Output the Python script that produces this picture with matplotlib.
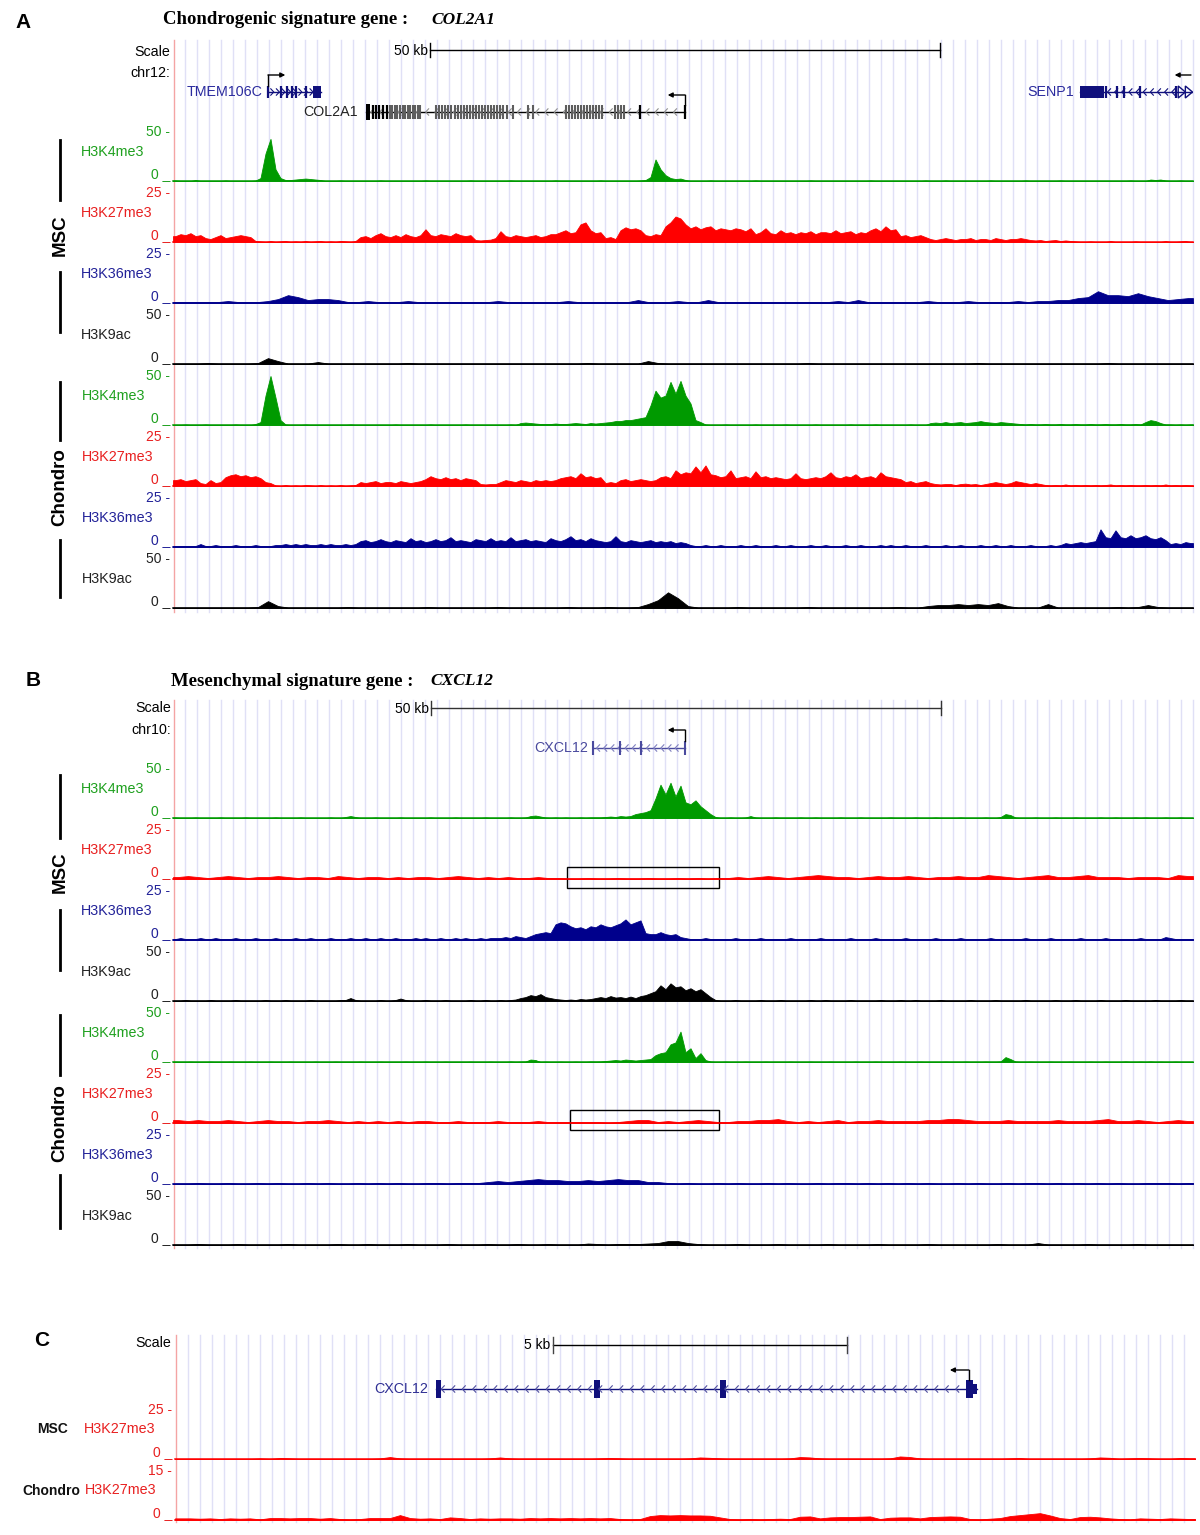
import matplotlib
matplotlib.use("Agg")
import matplotlib.pyplot as plt
import numpy as np
from matplotlib.patches import Rectangle, Polygon

SANS = ['Liberation Sans', 'DejaVu Sans']
SERIF = ['Liberation Serif', 'DejaVu Serif']

# ---------------- data ----------------
marks = ['H3K4me3', 'H3K27me3', 'H3K36me3', 'H3K9ac']
mark_max = [50, 25, 25, 50]

# Panel A (COL2A1 locus, 100 kb window); fine tracks use ~0.5 kb bins, others ~1 kb bins
A_MSC_K4 = [0.5,0,0,0,1,0,0,0,0,0,0.5,0,0,0,0,0,0.5,
            3,28,43,12,3,
            1,1,1.5,2,2.5,2,1.5,1,
            0,0,0,0.5,0,0,0,0,0,0, 0,0.5,0,0,0,0,0,0,0,0, 0.5,0,0,0,0,0,0,0,0,0.5,
            0,0,0,0,0,0,0,0.5,0,0, 0,0,0,0,0,0,0.5,0,0,0, 0,0,0,0,0,0.5,0,0,0,0, 0,0,0,0.5,1,
            4,22,12,6,3,2,2.5,1,
            0,0,0,0,0.5,0,0,0,0,0, 0,0,0,0.5,0,0,0,0,0,0, 0,0,0,0,0.5,0,0,0,0,0,
            0,0,0,0,0,0,0.5,0,0,0, 0,0,0,0,0,0,0,0.5,0,0, 0,0.5,0,0,0,0,0,0,0,0,
            0.5,0,0,0,0,0,0,0.5,0,0, 0,0,0,0,0.5,0,0,0,0,0, 0,0,0,0,0,0,0,0,0.5,0,
            0,0,1.5,1,1.5,0.5,0,0,0.5,0, 0]
A_MSC_K27 = [3,4,3.5,4.5,3,3.5,
             2,1.5,2.5,3.5,2,2.5,
             3,3.5,3,2.5,
             0.5,0.3,0,0.5,0,0.3,0.5,0,0.3,0,0.5,0,0.3,0.5,0,0.3,0,0.5,0.3,0,0.5,
             2.5,3,2,3.5,4.5,3,2.5,3.5,2.5,4,3,2.5,3.5,
             6.5,3.5,3,4,3.5,3,4.5,3.5,3,3.5,
             1,0.8,1,1.2,
             2,5.5,3,2.5,3.5,3,2.5,3,3.5,2.5,3,4,
             4,5,6,4.5,5,9,10,6,4.5,5,
             2,2.5,1.5,
             6,7.5,6.5,7,6,
             3.5,3,4,3.5,
             8,10,13,12,9,
             7,8,6.5,7.5,8,6,7,6.5,
             6,7,6.5,5.5,7,
             4,5,7,4.5,4,6,4.5,5,4,
             5,4.5,5.5,4,5,5,4.5,6,4.5,5,5.5,4,5,4.5,
             6,7,5.5,8,6,6.5,
             3,3.5,2.5,3,3.5,2.5,
             1.5,1,1.5,2,1.5,1,1.5,1.5,2,1,1.5,1.5,1,2,1.5,1,1.5,1.5,2,1.5,1,
             0.8,1,0.5,0.8,1,0.5,0.8,0.5,0.3,
             0,0,0.3,0,0,0,0.5,0,0,0,0,0.3,0,0,0,0,0,0.5,0,0,0.3,0.5,0]
A_MSC_K36 = [0.5,0.5,0.5,0.5,0.5,1,0.5,0.5,0.5,
             1,2,4,3,1.5,2,2,1.5,0.5,
             0.5,1,0.5,0.5,0.5,1,0.5,0.5,0.5,0.5,
             0.5,0.5,0.5,0.5,1,0.5,0.5,0.5,0.5,0.5,
             0.5,1,0.5,0.5,0.5,0.5,0.5,0.5,1.5,0.5,
             0.5,0.5,1,0.5,0.5,1.5,0.5,0.5,0.5,0.5,
             0.5,0.5,0.5,0.5,0.5,0.5,0.5,0.5,1,0.5,
             1.5,0.5,0.5,0.5,0.5,0.5,0.5,1,0.5,0.5,
             0.5,1,0.5,0.5,0.5,0.5,1,0.5,1,
             1,1.5,1.5,2.5,3,6,4,4,3.5,5,3.5,2.5,1.5,2,2.5]
A_MSC_K9 = [0.5,0.5,0.5,1,0.5,0.5,0.5,0.5,1,
            6,3,0.5,0.5,0.5,2,0.5,0.5,0.5,
            0.5,0.5,0.5,0.5,0.5,1,0.5,0.5,0.5,0.5,0.5,0.5,0.5,0.5,0.5,0.5,0.5,0.5,0.5,0.5,
            0.5,0.5,0.5,1,0.5,0.5,0.5,0.5,0.5,
            3,1,0.5,0.5,
            0.5,0.5,0.5,0.5,0.5,0.5,0.5,0.5,0.5,0.5,0.5,0.5,1,0.5,0.5,0.5,0.5,0.5,0.5,0.5,
            0.5,0.5,0.5,0.5,0.5,0.5,0.5,0.5,0.5,1,0.5,0.5,0.5,0.5,0.5,0.5,0.5,0.5,0.5,0.5,
            0.5,0.5,1,0.5,0.5,0.5,0.5,0.5,0.5,0.5,0.5]
A_CH_K4 = [0,0,0.5,0,0,0,0.5,0,0,0,0,0,0.5,0,0,0,1,
           3,30,50,28,5,0.5,
           0,0,0,0.5,0,0,0,0,0,0, 0,0,0.5,0,0,0,0,0,0,0, 0,0.5,0,0,0,0,0,0,0.5,0,
           0,0,0,0,0,0.5,0,0,0,0, 0,0,0,0,0.5,0,
           2,2.5,2,1.5,1,1,
           1,1.5,1,1,1.5,2,1.5,1,2,1.5,2,2.5,
           3,4,4,5,5,6,7,8,
           20,35,28,30,44,32,45,30,22,5,3,
           0.5,0,0,0,0.5,0,0,0,0,0, 0.5,0,0,0,0,0,0.5,0,0,0, 0,0,0.5,0,0,0,0,0,0,0.5,
           0,0,0,0,0.5,0,0,0,0,0, 0,0.5,0,0,0,
           2,2.5,2,3,2,2.5,3,2,2.5,3,4,3,2.5,2,3,2.5,2,1.5,
           1,0.5,1,0.5,0.5,1,0.5,0.5,1,0.5, 0.5,1,0.5,0.5,1,0.5,0.5,1,0.5,0.5, 1,0.5,0.5,1,0.5,
           3,5,4,2,
           0.5,0.5,0,0.5,0,0.5]
A_CH_K27 = [3,3.5,2.5,3,3.5,
            1.5,1,3,1.5,2,
            4.5,5.5,6,5,5.5,4.5,5,4,
            2,1.5,
            0.3,0,0.5,0,0.3,0,0.5,0.3,0,0.5,0,0.3,0,0.5,0,0.3,0.5,
            2,1.5,2,2.5,1.5,2,2,1.5,2.5,2,1.5,2,2.5,
            3.5,5,4,3.5,4.5,3.5,4,3,4,3.5,3,
            1,0.8,1,1,
            2,3,2.5,2,3,2.5,2,3,2.5,3,2.5,3,
            4,4.5,5,4,6.5,4.5,5,4,4.5,
            1.5,2,1.5,
            3,3.5,2.5,3,3.5,3,2.5,3,
            4.5,5,4,8,
            6,7,6.5,10,7,10.5,6,5.5,
            4.5,5,8,4,4.5,5,4,7.5,4.5,5,4,4.5,
            4,3.5,4,6.5,4,3.5,4,
            4.5,4,5,7,4.5,4,5,4.5,6,4,4.5,5,4,7,5,4.5,4,3.5,
            2,2.5,1.5,2,2.5,1.5,
            1,0.8,1,1,0.5,1,1.2,0.8,1,0.5,1,
            1.5,2,1.5,1,1.5,2.5,2,1.5,1,1.5,1,
            0.5,0.3,0.5,0.3,0.8,0.3,0.5,0.3,0.5,0.3,0.5,0.3,0.5,0.8,0.3,
            0.5,0.3,0.5,0.3,0.3,0.5,0.3,0.5,0.3,0.8,0.3,0.5,0.3,0.5,0.3]
A_CH_K36 = [0.5,0.5,0.5,0.5,0.5,1.5,
            0.5,0.5,1,0.5,0.5,0.5,1,0.5,0.5,0.5,1,0.5,0.5,0.5,1,
            1,1.5,1,1.5,1,1.5,1,1,1.5,1,1.5,1,1,1.5,1,1.5,
            3,3.5,2.5,3,4,3,2.5,3.5,3,2.5, 4.5,3,3.5,2.5,3,4,3,3.5,5,3,
            3.5,3,2.5,4,3.5,3,4.5,3,3.5,3, 5,3,3.5,4,3,3.5,3,2.5,4.5,3.5, 3,4,5.5,3.5,4,3,4.5,3.5,3,
            2.5,3,5.5,3,2.5,3.5,3,2.5,3,3.5,2.5,3,2.5,3,2,2.5,2,
            1,0.5,0.5,1,0.5,0.5,1,0.5,0.5,0.5, 1,0.5,0.5,1,0.5,0.5,0.5,1,0.5,0.5,
            1,0.5,0.5,0.5,1,0.5,0.5,1,0.5,0.5, 0.5,1,0.5,0.5,1,0.5,0.5,0.5,1,0.5,
            1,0.5,0.5,1,0.5,0.5,0.5,1,0.5,0.5, 0.5,1,0.5,0.5,1,0.5,0.5,0.5,1,0.5,
            0.5,1,0.5,0.5,1,0.5,0.5,0.5,1,0.5, 0.5,0.5,1,0.5,1,
            2,1.5,2,2.5,2,2.5,3,
            9,5,4.5,8.5,5,4.5,6,4.5,5,6,4.5,4,5,3.5,
            1.5,2,1.5,2.5,2]
A_CH_K9 = [0.5,0.5,0.5,0.5,0.5,0.5,0.5,0.5,
           1,7,2,
           0.5,0.5,0.5,0.5,0.5,0.5,1,0.5,0.5,0.5,0.5,0.5,0.5,0.5,1,0.5,0.5,0.5,0.5,0.5,
           0.5,1,0.5,0.5,0.5,0.5,0.5,0.5,1,0.5,0.5,0.5,1,0.5,0.5,1,
           4,8,16,10,2,
           0.5,0.5,0.5,0.5,1,0.5,0.5,0.5,0.5,0.5,0.5,1,0.5,0.5,0.5,0.5,0.5,0.5,0.5,0.5,1,0.5,0.5,
           2,3,3,4,3,4,3,5,2,
           0.5,0.5,0.5,4,0.5,0.5,0.5,0.5,0.5,0.5,1,0.5,1,3,1,0.5,0.5,0.5]

# Panel B (CXCL12 locus)
B_MSC_K4 = [0.5,0,0,0,0.5,0,0,0,0,0.5, 0,0,0,0,0.5,0,0,0,0,0, 0.5,0,0,0,0,0.5,0,0,0,0,
            0,0.5,0,0,1,2,1,0,0,0, 0.5,0,0,0,0,0.5,0,0,0,0, 0,0.5,0,0,0,0,0.5,0,0,0,
            0,0,0.5,0,0,0,0,0.5,0,0, 0.5,
            2,2.5,1.5,
            0.5,0,0.5,0,0.5,0,0,0.5,0,0.5,0.5,0.5,
            1,1.5,1,2,1.5,2,
            4,5,6,8,
            20,34,24,36,22,33,16,
            14,18,12,
            8,4,
            1,0,0,0.5,0,0,0.5,
            2,
            0.5,0,0,0,0.5,0,0,0,0,0.5, 0,0,0.5,0,0,0,0,0.5,0,0, 0,0.5,0,0,0,0,0,0.5,0,0,
            0,0,0.5,0,0,0,0.5,0,0,0, 0,0.5,0,0,0,0,0.5,0,0,1,
            4,3,
            0.5,0,0,0,0.5,0,0,0,0.5,0, 0,0,0.5,0,0,0,0,0.5,0,0, 0.5,0,0,0,0.5,0,0.5,0,0,0,
            0.5,0,0,0.5,0,0]
B_MSC_K27 = [1,1.5,1,0.5,1,1.5,1,0.5,1,1,1.5,1,0.5,1,1,0.5,1.5,1,0.5,1,
             1,0.5,1,0.5,1,1,0.5,1,1.5,1,0.5,1,0.5,1,0.5,0.5,1,0.5,0.5,
             0.3,0.3,0.5,0.3,0.3,0.5,0.3,0.3,0.5,0.3,0.3,0.5,0.3,0.5,0.3,0.5,
             0.5,1,0.5,1,1.5,1,0.5,1,1.5,2,1.5,1,1,0.5,1,1.5,1,1,1.5,1,
             0.5,1,1,1.5,1,1,2,1.5,1,0.5,1,1.5,2,1,1,1.5,2,1,1,1,
             0.5,1,1,1,0.5,2,1.5]
B_MSC_K36 = [0.5,1,0.5,0.5,0.5,1,0.5,0.5,1,0.5, 0.5,0.5,1,0.5,0.5,0.5,1,0.5,0.5,0.5,
             1,0.5,0.5,0.5,1,0.5,0.5,1,0.5,0.5, 0.5,1,0.5,0.5,0.5,1,0.5,0.5,1,0.5,
             0.5,1,0.5,0.5,1,0.5,0.5,0.5,1,0.5, 1,0.5,0.5,1,0.5,0.5,1,0.5,1,0.5,
             0.5,1,0.5,1,1,
             1,1.5,1,2,1.5,1,2,
             3,3.5,4,3.5,
             8,9,8.5,7,
             6,6.5,5.5,
             7,6.5,8,7,6.5,7.5,
             8.5,10.5,8,9,10,
             3.5,3,3,4,3,2.5,3,
             1.5,1,
             0.5,0.5,0.5,1,0.5,0.5,0.5,0.5,0.5,1, 0.5,0.5,0.5,0.5,1,0.5,0.5,0.5,0.5,0.5,
             1,0.5,0.5,0.5,0.5,0.5,1,0.5,0.5,0.5, 0.5,0.5,1,0.5,0.5,0.5,0.5,1,0.5,0.5,
             0.5,0.5,0.5,1,0.5,0.5,0.5,0.5,0.5,1, 0.5,0.5,0.5,0.5,1,0.5,0.5,0.5,0.5,0.5,
             1,0.5,0.5,0.5,0.5,0.5,0.5,1,0.5,0.5, 0.5,0.5,1,0.5,0.5,0.5,0.5,0.5,1,0.5,
             0.5,0.5,0.5,1,0.5,0.5,0.5,0.5,0.5,0.5, 1,0.5,0.5,0.5,0.5,1.5,1,0.5,0.5,0.5,
             0.5]
B_MSC_K9 = [0.5,0.5,1,0.5,0.5,0.5,0.5,1,0.5,0.5, 0.5,0.5,1,0.5,0.5,0.5,0.5,0.5,1,0.5,
            0.5,0.5,1,0.5,0.5,0.5,0.5,1,0.5,0.5, 0.5,0.5,0.5,1,1,3,1,0.5,0.5,0.5,
            0.5,1,0.5,0.5,1,2.5,1,0.5,0.5,0.5, 1,0.5,0.5,0.5,1,0.5,0.5,0.5,0.5,1,
            0.5,0.5,1,0.5,0.5,1,0.5,1,1.5,
            3,4,6,5,7,4,3,2,1.5,
            1,1.5,1,2,1.5,2,3,
            4,3,5,3.5,4,3,4.5,3,5,6,8,
            10,16,12,18,14,15,11,13,10,12,8,4,
            1,0.5,0.5,0.5,1,0.5,0.5,0.5,0.5,1, 0.5,0.5,0.5,1,0.5,0.5,0.5,0.5,0.5,1,
            0.5,0.5,1,0.5,0.5,0.5,0.5,1,0.5,0.5, 0.5,0.5,0.5,1,0.5,0.5,0.5,1,0.5,0.5,
            1,0.5,0.5,0.5,0.5,1,0.5,0.5,0.5,0.5, 0.5,1,0.5,0.5,0.5,0.5,1,0.5,0.5,0.5,
            0.5,0.5,1,0.5,0.5,0.5,0.5,0.5,1,0.5, 0.5,0.5,1,0.5,0.5,0.5,0.5,1,0.5,0.5,
            0.5,0.5,1,0.5,0.5,0.5,0.5,0.5,1,0.5, 0.5,0.5,0.5,1,0.5,0.5]
B_CH_K4 = [0.3,0,0,0.3,0,0,0,0.3,0,0, 0,0.3,0,0,0,0.3,0,0,0,0.3, 0,0,0,0.3,0,0,0,0,0.3,0,
           0,0,0.3,0,0,0,0,0.3,0,0, 0,0.3,0,0,0,0,0.3,0,0,0, 0.3,0,0,0,0.3,0,0,0,0,0.3,
           0,0,0,0.3,0,0,0,0.5,0,0.3, 0.5,
           2.5,2,
           0,0.3,0,0,0.3,0,0,0.3,0,0,0.5,0.3,0.5,1,
           1.5,2,1.5,2.5,2,1.5,2,2.5,
           3,7,9,10,18,20,31,10,14,4,9,2,
           0.5,0,0,0.3,0,0,0,0.3,0,0, 0,0.3,0,0,0,0,0.3,0,0,0, 0.3,0,0,0,0.3,0,0,0,0,0.3,
           0,0,0,0.3,0,0,0,0,0.3,0, 0,0,0.3,0,0,0,0,0.3,0,0, 0,0.3,0,0,0,0.3,0,0,0.5,
           5,3,
           0.5,0,0,0.3,0,0,0,0.3,0,0, 0,0.3,0,0,0,0.3,0,0,0.3,0, 0,0,0.5,0,0,0.3,0,0.5,0,0.3,
           0,0,0.3,0,0,0]
B_CH_K27 = [1.5,1,1.5,1,1,1.5,1,0.5,1,1.5,1,1,0.5,1,1,1.5,1,0.5,1,0.5,
            1,0.5,1,0.5,1,1,0.5,0.5,1,0.5,0.5,0.5,1,0.5,0.5,0.5,1,0.5,0.5,
            0.5,0.5,0.5,0.5,0.3,0.5,1,1.5,1.5,0.5,1,0.5,1,1.5,1,0.5,
            0.5,1,1,1.5,1.5,2,1,0.5,1,0.5,1,1.5,0.5,1,1,1.5,1,1,1,1,
            1.5,1.5,2,2,1.5,1,1,1,1.5,1,1,1,1,1.5,1,1,1,1.5,2,1,
            1,1.5,1,0.5,1,1.5,1]
B_CH_K36 = [0.3,0.3,0.5,0.3,0.3,0.5,0.3,0.3,0.5,0.3,0.5,0.3,0.3,0.5,0.3,0.5,0.3,0.3,0.5,0.3,
            0.5,0.3,0.5,0.3,0.3,0.5,0.5,0.3,0.5,0.5,
            0.5,1,1.5,1,1.5,2,2.5,2,2,1.5,1.5,2,1.5,2,2.5,2,2,1,1,
            0.5,0.3,0.5,0.3,0.3,0.5,0.3,0.5,0.3,0.3,0.5,0.3,0.5,0.3,0.3,0.5,0.3,0.5,0.5,0.3,
            0.5,0.3,0.5,0.3,0.5,0.3,0.5,0.3,0.3,0.5,0.3,0.5,0.3,0.3,0.5,0.3,0.5,0.5,0.3,0.5,
            0.3,0.5,0.3,0.5,0.3,0.5,0.3,0.3,0.5,0.5,0.5,0.3,0.5]
B_CH_K9 = [0.5,0.5,1,0.5,0.5,0.5,1,0.5,0.5,0.5,0.5,1,0.5,0.5,0.5,0.5,1,0.5,0.5,1,
           0.5,0.5,0.5,1,0.5,0.5,0.5,1,0.5,0.5,0.5,1,0.5,0.5,1,0.5,0.5,1,0.5,0.5,
           0.5,1.5,1,0.5,1,1,1,
           1.5,2,4,4,2,1,
           0.5,0.5,0.5,1,0.5,0.5,0.5,1,0.5,0.5,0.5,0.5,1,0.5,0.5,0.5,0.5,1,0.5,0.5,
           0.5,0.5,1,0.5,0.5,0.5,0.5,0.5,0.5,1,0.5,0.5,0.5,2,0.5,0.5,0.5,0.5,1,0.5,
           0.5,0.5,0.5,1,0.5,0.5,0.5,0.5,0.5]

# Panel C (CXCL12 gene, ~17 kb) H3K27me3 only
C_MSC_K27 = [0,0,0,0,0,0,0,0,0.3,0, 0.5,0.3,0,0,0,0,0,0,0,0,
             0.3,1,0.3,0,0,0,0,0,0,0, 0,0.3,0.8,0.3,0,0,0,0,0,0,
             0,0,0.3,0.5,0.3,0,0,0,0,0, 0,0.3,0.8,0.6,0.3,0,0,0,0,0,
             0,0.3,1,0.8,0.3,0,0,0,0,0, 0,0.3,1.3,1,0.3,0,0,0,0,0,
             0,0,0,0.3,0.5,0,0,0,0,0, 0,0.3,0.8,0.6,0,0.3,0.5,0.3,0,0,
             0.5,0.3]
C_CH_K27 = [0.5,0.5,0.4,0.5,0.3, 0.5,0.4,0.5,0.2, 0.6,0.6,0.5,0.6,0.6,0.4,
            0.6,0.3,0.2,0.3,0.6, 0.6,0.6,1.5,0.6, 0.4,0.5,0.3,0.8, 0.6,0.3,0.5,0.4,0.5,
            0.5,0.4,0.6,0.5,0.6, 0.5,0.6,0.5,0.6,0.5, 0.6,0.3,0.2,0.3,1.2,
            1.5,1.4,1.5,1.4,1.4,1.3,0.8, 0.3,0.2,0.3,0.2,0.3,0.4,0.3, 1,1.1,0.5,
            0.8,0.9,0.9,1,1.1, 0.3,0.7,0.8,0.8,0.5, 0.9,1,1.1,1,0.3, 0.2,0.4,0.6,
            1.2,1.5,1.8,2.1,1.4, 0.6,0.3, 0.9,1,0.8,0.5, 0.3,0.2,0.5,0.4, 0.3,0.5,0.4,0.3]
C_max = [25, 15]

# gene models (kb from left edge of window)
REGION_AB_KB = 100.0
REGION_C_KB = 17.35
TMEM106C_span = (9.31, 14.51)
TMEM106C_bars = [9.31, 10.59, 11.18, 11.67, 12.06, 13.04]
TMEM106C_block = (13.73, 14.51)
COL2A1_span = (18.92, 50.2)
COL2A1_block = (18.92, 19.31)
COL2A1_black = [19.6, 19.9, 20.2, 20.6, 21.0, 45.8, 50.2]
COL2A1_gray = [21.3, 21.5, 21.8, 22.0, 22.3, 22.5, 22.7, 23.0, 23.2, 23.5, 23.7, 24.0, 24.2,
               25.8, 26.1, 26.4, 26.7, 27.0, 27.3, 27.6, 27.9, 28.2, 28.5, 28.8, 29.1, 29.4,
               29.7, 30.0, 30.3, 30.6, 30.9, 31.2, 31.5, 31.8, 32.1, 32.4, 32.7,
               33.3, 34.8, 35.3,
               38.5, 38.8, 39.1, 39.4, 39.7, 40.0, 40.3, 40.6, 40.9, 41.2, 41.5, 41.8, 42.1,
               43.3, 43.6, 43.9, 44.2]
SENP1_span = (88.92, 100.0)
SENP1_block = (88.92, 91.27)
SENP1_bars = [91.5, 92.5, 93.2, 94.8, 98.3]
CXCL12_B_span = (41.18, 50.2)
CXCL12_B_bars = [41.18, 43.82, 45.88, 50.2]
CXCL12_C_span = (4.44, 13.64)
CXCL12_C_blocks = [(4.44, 4.53), (7.13, 7.23), (9.27, 9.37), (13.45, 13.57)]
CXCL12_C_tail = (13.57, 13.64)
SCALE_AB = (25.2, 75.2)   # 50 kb
SCALE_C = (6.43, 11.43)   # 5 kb

# ---------------- style ----------------
W, H = 1200, 1535
COL = {'H3K4me3': '#009a00', 'H3K27me3': '#ff0000', 'H3K36me3': '#00008c', 'H3K9ac': '#000000'}
LAB = {'H3K4me3': '#1ea01e', 'H3K27me3': '#e82020', 'H3K36me3': '#222298', 'H3K9ac': '#222222'}
GRID = '#e0e0f6'
PINK = '#f4a4a4'
NAVY = '#10107c'
TRACK_H = 49

fig = plt.figure(figsize=(W / 100, H / 100), dpi=100)
bg = fig.add_axes([0, 0, 1, 1])
bg.set_xlim(0, W)
bg.set_ylim(H, 0)
bg.axis('off')


def px_axes(x0, x1, y0, y1, xlim, ylim):
    ax = fig.add_axes([x0 / W, 1 - y1 / H, (x1 - x0) / W, (y1 - y0) / H])
    ax.set_xlim(*xlim)
    ax.set_ylim(*ylim)
    ax.axis('off')
    ax.patch.set_alpha(0)
    return ax


def txt(x, y, s, ha='left', size=10.3, color='black', family=SANS, **kw):
    bg.text(x, y, s, ha=ha, va='center', fontsize=size, color=color, family=family, **kw)


def grid(x_first, x_last, y0, y1, left_line):
    x = x_first
    while x <= x_last:
        bg.plot([x, x], [y0, y1], color=GRID, lw=1, zorder=0)
        x += 12
    bg.plot([left_line, left_line], [y0, y1], color=PINK, lw=1, zorder=0)


def track(x0, x1, base, vals, vmax, color, region):
    ax = px_axes(x0, x1, base - TRACK_H, base, (0, region), (0, vmax))
    v = np.asarray(vals, dtype=float)
    n = len(v)
    xs = (np.arange(n) + 0.5) * region / n
    xs = np.concatenate([[0], xs, [region]])
    v = np.concatenate([[v[0]], v, [v[-1]]])
    ax.fill_between(xs, 0, v, color=color, lw=0.6, edgecolor=color)
    ax.axhline(0, color=color, lw=1.1, clip_on=False)
    return ax


def chevrons(ax, s, e, y, step, kbpx, color, direction=-1, h=3.2, dxp=3.0):
    dx = dxp / kbpx
    p = s + step / 2
    while p < e - dx:
        if direction < 0:
            ax.plot([p + dx, p, p + dx], [y - h, y, y + h], color=color, lw=0.8)
        else:
            ax.plot([p, p + dx, p], [y - h, y, y + h], color=color, lw=0.8)
        p += step


def tss_arrow(ax, x, y_from, y_top, x_to, color='black', vertical=True):
    if vertical:
        ax.plot([x, x], [y_from, y_top], color=color, lw=1)
    ax.annotate('', xy=(x_to, y_top), xytext=(x, y_top),
                arrowprops=dict(arrowstyle='-|>', color=color, lw=1,
                                mutation_scale=7, shrinkA=0, shrinkB=0))


def group_label(name, y_center, bars, size=13.5):
    txt(60, y_center, name, ha='center', size=size, weight='bold', rotation=90)
    for (a, b) in bars:
        bg.plot([60, 60], [a, b], color='black', lw=2)


def track_block(x0, x1, baselines, data, groups_tick_x=170, lab_x=81):
    axes = []
    for k, (base, vals) in enumerate(zip(baselines, data)):
        m = marks[k % 4]
        vmax = mark_max[k % 4]
        axes.append(track(x0, x1, base, vals, vmax, COL[m], REGION_AB_KB))
        txt(groups_tick_x, base - TRACK_H, f'{vmax} -', ha='right', color=LAB[m], size=10)
        txt(groups_tick_x, base - 7, '0 _', ha='right', color=LAB[m], size=10)
        txt(lab_x + (1 if k >= 4 else 0), base - 29, m, color=LAB[m])
    return axes


# ================= Panel A =================
grid(185, 1195, 40, 612, 173.5)
txt(15, 22, 'A', size=15, weight='bold')
txt(163, 20, 'Chondrogenic signature gene :', family=SERIF, size=13.5, weight='bold')
txt(431, 20, 'COL2A1', family=SERIF, size=12.5, weight='bold', style='italic')
txt(170, 52, 'Scale', ha='right')
txt(170, 73, 'chr12:', ha='right')

gA = px_axes(173, 1193, 30, 130, (0, REGION_AB_KB), (130, 30))
gA.plot([SCALE_AB[0], SCALE_AB[1]], [50, 50], color='black', lw=1)
gA.plot([SCALE_AB[0]] * 2, [43, 57], color='black', lw=1)
gA.plot([SCALE_AB[1]] * 2, [43, 57], color='black', lw=1)
gA.text(SCALE_AB[0] - 0.2, 51, '50 kb', ha='right', va='center', fontsize=10, family=SANS)

# TMEM106C (+ strand)
gA.plot(TMEM106C_span, [92, 92], color=NAVY, lw=1)
chevrons(gA, TMEM106C_span[0], TMEM106C_block[0], 92, 0.55, 10.2, NAVY, direction=1)
gA.vlines(TMEM106C_bars, 86, 98, color=NAVY, lw=1.6)
gA.add_patch(Rectangle((TMEM106C_block[0], 86), TMEM106C_block[1] - TMEM106C_block[0], 12, color=NAVY, lw=0))
gA.text(TMEM106C_span[0] - 0.55, 92, 'TMEM106C', ha='right', va='center', fontsize=10.3,
        color='#2b2b9e', family=SANS)
tss_arrow(gA, TMEM106C_span[0], 86, 75, TMEM106C_span[0] + 1.7)

# COL2A1 (- strand)
gA.plot(COL2A1_span, [112, 112], color='black', lw=1)
chevrons(gA, COL2A1_span[0], COL2A1_span[1], 112, 0.9, 10.2, '#909090', direction=-1)
gA.vlines(COL2A1_gray, 105, 119, color='#5e5e5e', lw=1.5)
gA.vlines(COL2A1_black, 105, 119, color='black', lw=1.6)
gA.add_patch(Rectangle((COL2A1_block[0], 104), COL2A1_block[1] - COL2A1_block[0], 16, color='black', lw=0))
gA.text(COL2A1_span[0] - 0.8, 112, 'COL2A1', ha='right', va='center', fontsize=10.3,
        color='#222222', family=SANS)
tss_arrow(gA, COL2A1_span[1], 105, 95, COL2A1_span[1] - 1.7)

# SENP1 (- strand, continues right)
gA.plot(SENP1_span, [92, 92], color=NAVY, lw=1)
chevrons(gA, SENP1_block[1], SENP1_span[1] - 1.3, 92, 0.7, 10.2, NAVY, direction=-1)
gA.vlines(SENP1_bars, 86, 98, color=NAVY, lw=1.6)
gA.add_patch(Rectangle((SENP1_block[0], 86), SENP1_block[1] - SENP1_block[0], 12, color=NAVY, lw=0))
for xs in (98.55, 99.25):
    gA.add_patch(Polygon([[xs, 86], [xs + 0.7, 92], [xs, 98]], closed=True, fill=False,
                         edgecolor=NAVY, lw=1))
gA.text(SENP1_span[0] - 0.6, 92, 'SENP1', ha='right', va='center', fontsize=10.3,
        color='#2b2b9e', family=SANS)
tss_arrow(gA, SENP1_span[1] - 0.2, 75, 75, SENP1_span[1] - 1.8, vertical=False)

A_base = [181, 242, 303, 364, 425, 486, 547, 608]
track_block(173, 1193, A_base,
            [A_MSC_K4, A_MSC_K27, A_MSC_K36, A_MSC_K9, A_CH_K4, A_CH_K27, A_CH_K36, A_CH_K9])
group_label('MSC', 235, [(140, 200), (272, 332)])
group_label('Chondro', 487, [(382, 440), (540, 597)])

# ================= Panel B =================
grid(185, 1195, 700, 1248, 173.5)
txt(26, 680, 'B', size=15, weight='bold')
txt(171, 681, 'Mesenchymal signature gene :', family=SERIF, size=13.5, weight='bold')
txt(430, 681, 'CXCL12', family=SERIF, size=12.5, weight='bold', style='italic')
txt(171, 708, 'Scale', ha='right')
txt(171, 730, 'chr10:', ha='right')

gB = px_axes(173, 1193, 690, 765, (0, REGION_AB_KB), (765, 690))
gB.plot([SCALE_AB[0] + 0.1, SCALE_AB[1] + 0.1], [708, 708], color='#333333', lw=1)
gB.plot([SCALE_AB[0] + 0.1] * 2, [701, 715], color='#333333', lw=1)
gB.plot([SCALE_AB[1] + 0.1] * 2, [701, 715], color='#333333', lw=1)
gB.text(SCALE_AB[0] - 0.1, 709, '50 kb', ha='right', va='center', fontsize=10, family=SANS)
CX_B = '#4a4a9e'
gB.plot(CXCL12_B_span, [748, 748], color=CX_B, lw=1)
chevrons(gB, CXCL12_B_span[0], CXCL12_B_span[1], 748, 0.7, 10.2, '#8080c0', direction=-1)
gB.vlines(CXCL12_B_bars, 741, 755, color=CX_B, lw=1.5)
gB.text(CXCL12_B_span[0] - 0.5, 748, 'CXCL12', ha='right', va='center', fontsize=10.3,
        color=CX_B, family=SANS)
tss_arrow(gB, CXCL12_B_span[1], 741, 730, CXCL12_B_span[1] - 1.7)

B_base = [818, 879, 940, 1001, 1062, 1123, 1184, 1245]
axB = track_block(173, 1193, B_base,
                  [B_MSC_K4, B_MSC_K27, B_MSC_K36, B_MSC_K9, B_CH_K4, B_CH_K27, B_CH_K36, B_CH_K9])
axB[1].add_patch(Rectangle((38.6, -4.6), 14.9, 10.7, fill=False, edgecolor='black', lw=1, clip_on=False))
axB[5].add_patch(Rectangle((38.9, -3.6), 14.6, 10.2, fill=False, edgecolor='black', lw=1, clip_on=False))
group_label('MSC', 872, [(775, 838), (910, 970)])
group_label('Chondro', 1123, [(1015, 1075), (1175, 1228)])

# ================= Panel C =================
grid(188, 1195, 1335, 1522, 175.5)
txt(34, 1341, 'C', size=15, weight='bold')
txt(171, 1343, 'Scale', ha='right')
KBPX_C = 1020 / REGION_C_KB
gC = px_axes(175, 1195, 1330, 1400, (0, REGION_C_KB), (1400, 1330))
gC.plot(SCALE_C, [1345, 1345], color='black', lw=1)
gC.plot([SCALE_C[0]] * 2, [1337, 1353], color='#444444', lw=1)
gC.plot([SCALE_C[1]] * 2, [1337, 1353], color='#444444', lw=1)
gC.text(SCALE_C[0] - 0.04, 1345, '5 kb', ha='right', va='center', fontsize=10, family=SANS)
gC.plot(CXCL12_C_span, [1389, 1389], color=NAVY, lw=1)
chevrons(gC, CXCL12_C_span[0], CXCL12_C_blocks[-1][0], 1389, 10.5 / KBPX_C, KBPX_C, '#5050a0', direction=-1)
for (s, e) in CXCL12_C_blocks:
    gC.add_patch(Rectangle((s, 1380), e - s, 18, color=NAVY, lw=0))
gC.add_patch(Rectangle((CXCL12_C_tail[0], 1384), CXCL12_C_tail[1] - CXCL12_C_tail[0], 10, color=NAVY, lw=0))
gC.text(CXCL12_C_span[0] - 0.14, 1389, 'CXCL12', ha='right', va='center', fontsize=10.3,
        color='#303094', family=SANS)
tss_arrow(gC, 13.5, 1380, 1370, 13.18)

C_base = [1459, 1520]
for k, (base, vals, vmax) in enumerate(zip(C_base, [C_MSC_K27, C_CH_K27], C_max)):
    track(175, 1195, base, vals, vmax, COL['H3K27me3'], REGION_C_KB)
    txt(172, base - TRACK_H, f'{vmax} -', ha='right', color=LAB['H3K27me3'], size=10)
    txt(172, base - 7, '0 _', ha='right', color=LAB['H3K27me3'], size=10)
    txt(84 + k, base - 30, 'H3K27me3', color=LAB['H3K27me3'])
txt(37, 1429, 'MSC', size=10, color='#111111', weight='bold')
txt(22, 1491, 'Chondro', size=10, color='#111111', weight='bold')

fig.savefig('out.png', dpi=100)
